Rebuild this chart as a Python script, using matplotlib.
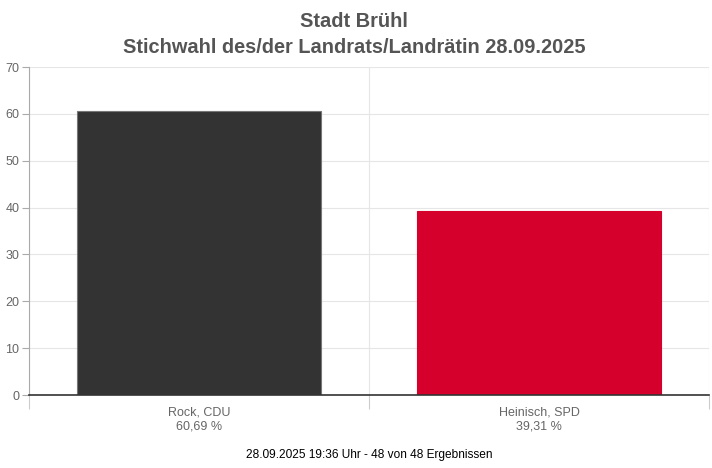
import matplotlib
matplotlib.use("Agg")
import matplotlib.pyplot as plt

plt.rcParams['font.family'] = ['Liberation Sans', 'DejaVu Sans']

categories = ["Rock, CDU", "Heinisch, SPD"]
values = [60.69, 39.31]
value_labels = ["60,69 %", "39,31 %"]
colors = ["#333333", "#d5002c"]
title = "Stadt Brühl\nStichwahl des/der Landrats/Landrätin 28.09.2025"
footer = "28.09.2025 19:36 Uhr - 48 von 48 Ergebnissen"
yticks = [0, 10, 20, 30, 40, 50, 60, 70]

fig = plt.figure(figsize=(7.12, 4.68), dpi=100)
ax = fig.add_axes([29/712, 1-395/468, 680/712, 328/468])

x = list(range(len(categories)))
ax.bar(x, values, width=0.718, color=colors, edgecolor=["#777777", colors[1]], linewidth=0.8, zorder=3)
ax.set_xlim(-0.5, 1.5)
ax.set_ylim(0, 70)
ax.set_yticks(yticks)
ax.set_yticklabels([str(t) for t in yticks])
ax.set_xticks([-0.5, 0.5, 1.5])
ax.set_xticklabels([])
ax.yaxis.grid(True, color="#e6e6e6", linewidth=0.8, zorder=0)
ax.xaxis.grid(True, color="#e6e6e6", linewidth=0.8, zorder=0)
for s in ["top", "right"]:
    ax.spines[s].set_visible(False)
ax.spines["left"].set_color("#aaaaaa")
ax.spines["left"].set_linewidth(0.8)
ax.spines["bottom"].set_color("#333333")
ax.spines["bottom"].set_linewidth(1.2)
ax.spines["bottom"].set_zorder(4)
ax.tick_params(axis="y", colors="#aaaaaa", labelcolor="#666666", labelsize=9, length=5, width=0.8, pad=2)
ax.tick_params(axis="x", colors="#cccccc", length=10, width=0.8)

for i, (c, v) in enumerate(zip(categories, value_labels)):
    ax.text(i, -2.4, c + "\n" + v, ha="center", va="top", fontsize=9, color="#666666",
            linespacing=1.22, transform=ax.transData)

fig.text(0.497, 1-12/468, title, ha="center", va="top", fontsize=14.4, fontweight="bold",
         color="#555555", linespacing=1.45)
fig.text(0.518, 1-455/468, footer, ha="center", va="center", fontsize=8.6, color="#000000")

fig.savefig("out.png", dpi=100)
